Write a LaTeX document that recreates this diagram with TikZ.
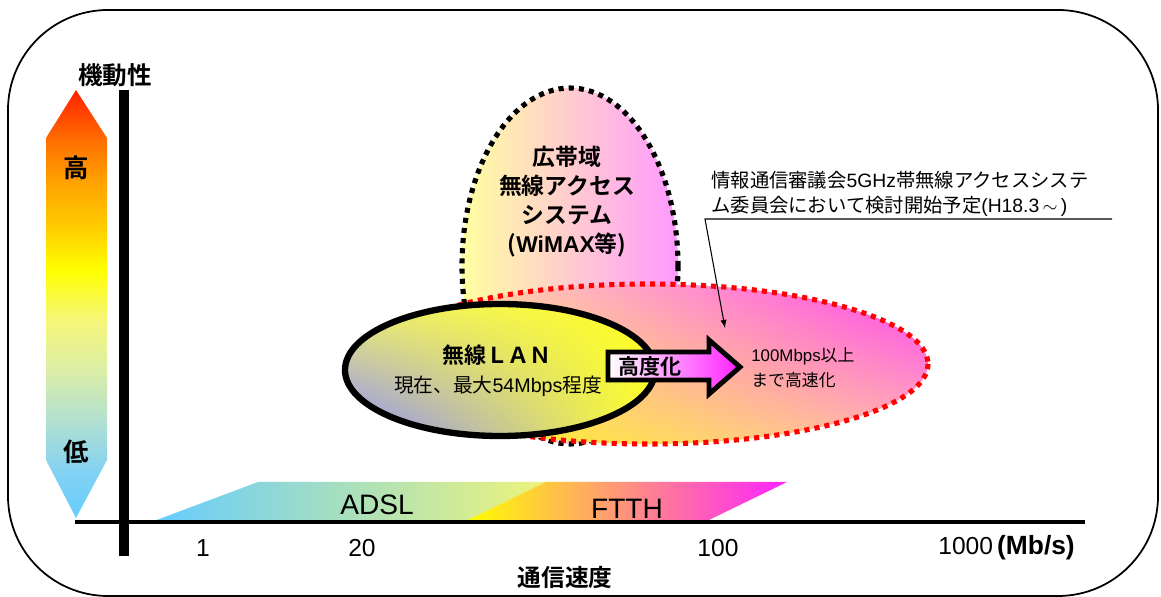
\documentclass[tikz,border=0pt]{standalone}
\usepackage{fontspec}
\setmainfont{Noto Sans CJK JP}[BoldFont={Noto Sans CJK JP Bold}]
\newfontfamily\latin{Liberation Sans}
\usetikzlibrary{shadings}

\definecolor{lowblue}{HTML}{66CCFF}
\definecolor{mob1}{HTML}{84D2F2}
\definecolor{mob2}{HTML}{B2E0D0}
\definecolor{mob3}{HTML}{DCEEA6}
\definecolor{mob4}{HTML}{F6F67A}
\definecolor{mob5}{HTML}{FFFF00}
\definecolor{mob6}{HTML}{FFD000}
\definecolor{mob7}{HTML}{FFA000}
\definecolor{mob8}{HTML}{FF7000}
\definecolor{highred}{HTML}{FF2000}
\definecolor{wimaxleft}{HTML}{FFFFA0}
\definecolor{wimaxright}{HTML}{FF99FF}
\definecolor{fastUL}{HTML}{FFF8A0}
\definecolor{fastLL}{HTML}{FFFF00}
\definecolor{fastUR}{HTML}{FF40F0}
\definecolor{fastLR}{HTML}{FFB8B8}
\definecolor{lanUL}{HTML}{F0F070}
\definecolor{lanLL}{HTML}{8C8CFF}
\definecolor{lanUR}{HTML}{FFFF20}
\definecolor{lanLR}{HTML}{FFFF30}
\definecolor{adslend}{HTML}{F0F478}
\definecolor{ftthmid}{HTML}{FFB8A8}
\definecolor{ftthend}{HTML}{FF22FF}
\definecolor{dotred}{HTML}{FF0000}

\pgfdeclareverticalshading{mobility}{100bp}{color(0bp)=(lowblue); color(25bp)=(lowblue);
	color(30.6bp)=(mob1); color(36.4bp)=(mob2); color(42.3bp)=(mob3); color(48.1bp)=(mob4);
	color(54bp)=(mob5); color(58.6bp)=(mob6); color(64.5bp)=(mob7); color(69bp)=(mob8);
	color(75bp)=(highred); color(100bp)=(highred)}

\tikzset{>=latex}

\begin{document}
\begin{tikzpicture}[x=0.02cm, y=-0.02cm]

	\tikzstyle{label_bold} = [inner sep=0pt, font=\bfseries\fontsize{14}{16}\selectfont]
	\tikzstyle{axis_number} = [inner sep=0pt, font=\latin\fontsize{14}{16}\selectfont]
	\tikzstyle{band_text} = [inner sep=0pt, font=\latin\fontsize{16}{18}\selectfont]
	\tikzstyle{area_text} = [inner sep=0pt, align=center, font=\bfseries\fontsize{13}{16.5}\selectfont]
	\tikzstyle{small_text} = [inner sep=0pt, align=left, font=\fontsize{9.6}{14}\selectfont]
	\tikzstyle{dotted_black} = [draw=black, line width=2.9pt, dash pattern=on 2.9pt off 2.9pt]
	\tikzstyle{dotted_red} = [draw=dotred, line width=2.9pt, dash pattern=on 2.9pt off 2.9pt]

	\useasboundingbox (0,0) rectangle (1161,597);

%------------------------------------------------------------
	\draw[line width=1pt, rounded corners=2cm] (8,10) rectangle (1158,596);

%------------------------------------------------------------
	\shade[shading=mobility] (76,90) -- (107,138) -- (107,460) -- (76,518)
		-- (46,460) -- (46,138) -- cycle;
	\node[label_bold] (mob) at (115,75) {機動性};
	\node[label_bold, font=\bfseries\fontsize{14.5}{16}\selectfont] (high) at (76,168) {高};
	\node[label_bold, font=\bfseries\fontsize{14.5}{16}\selectfont] (low) at (76,452) {低};

%------------------------------------------------------------
	\shade[left color=lowblue, right color=adslend] (154,521) -- (258,482) -- (552,482) -- (552,521) -- cycle;
	\shade[left color=mob5, middle color=ftthmid, right color=ftthend] (466,521) -- (546,482) -- (787,482) -- (707,521) -- cycle;
	\node[band_text] (adsl) at (377,505) {ADSL};
	\node[band_text] (ftth) at (627,509) {FTTH};

%------------------------------------------------------------
	\coordinate (ytop) at (124,90);
	\coordinate (ybottom) at (124,556);
	\coordinate (xleft) at (75,522);
	\coordinate (xright) at (1085,522);
	\draw[line width=5.5pt] (ytop) -- (ybottom);
	\draw[line width=2.3pt] (xleft) -- (xright);

	\node[axis_number] (s1) at (203,548) {1};
	\node[axis_number] (s20) at (362,548) {20};
	\node[axis_number] (s100) at (718,548) {100};
	\node[axis_number, anchor=west] (s1000) at (938,548) {1000\,{\bfseries\fontsize{15}{16}\selectfont(Mb/s)}};
	\node[label_bold, font=\bfseries\fontsize{13.5}{16}\selectfont] (speed) at (565,578) {通信速度};

%------------------------------------------------------------
	\shadedraw[left color=wimaxleft, right color=wimaxright, dotted_black] (570,266) ellipse [x radius=108, y radius=178];
	\shadedraw[upper left=fastUL, lower left=fastLL, upper right=fastUR, lower right=fastLR, dotted_red] (648,364) ellipse [x radius=280, y radius=80];
	\shadedraw[upper left=lanUL, lower left=lanLL, upper right=lanUR, lower right=lanLR, line width=3.6pt] (500,370) ellipse [x radius=155, y radius=66];

	\node[area_text] (wimax) at (567,202) {広帯域\\無線アクセス\\システム\\({\latin\bfseries WiMAX}等)};
	\node[area_text, font=\bfseries\fontsize{12.5}{15}\selectfont] (lan) at (497,355) {無線ＬＡＮ};
	\node[inner sep=0pt, font=\fontsize{11.2}{14}\selectfont] (lannow) at (498,386) {現在、最大{\latin 54Mbps}程度};

%------------------------------------------------------------
	\shadedraw[left color=white, right color=ftthend, line width=2.8pt, line join=miter]
		(608,352) -- (709,352) -- (709,340) -- (740,367) -- (709,394) -- (709,380) -- (608,380) -- cycle;
	\node[label_bold, font=\bfseries\fontsize{12}{14}\selectfont] (upgrade) at (650,367) {高度化};
	\node[small_text, anchor=west] (target) at (751,368) {{\latin 100Mbps}以上\\まで高速化};

%------------------------------------------------------------
	\node[small_text, anchor=west, font=\fontsize{11}{14.2}\selectfont] (note) at (711,194)
		{情報通信審議会{\latin 5GHz}帯無線アクセスシステ\\ム委員会において検討開始予定{\latin (H18.3\,$\sim$\,)}};
	\coordinate (notecorner) at (705,219);
	\coordinate (noteend) at (1112,219);
	\coordinate (notetip) at (725,328);
	\draw[line width=0.6pt, ->] (noteend) -- (notecorner) -- (notetip);

\end{tikzpicture}
\end{document}
